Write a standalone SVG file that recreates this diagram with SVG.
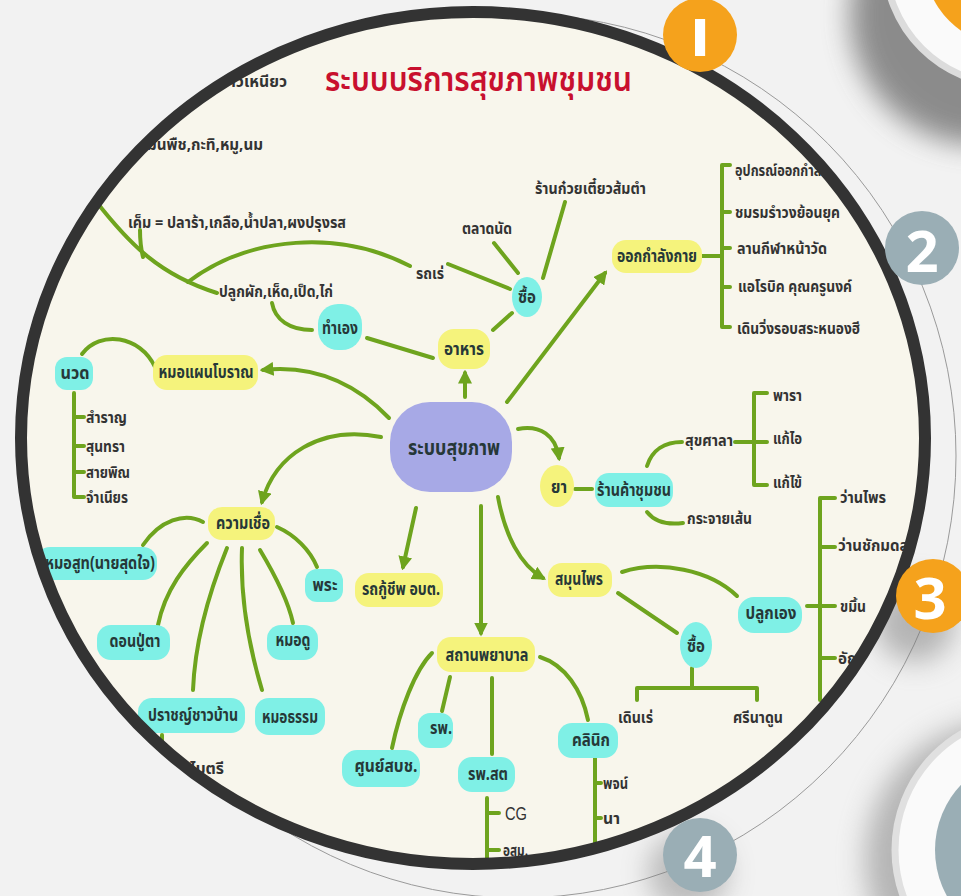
<svg xmlns="http://www.w3.org/2000/svg" width="961" height="896" viewBox="0 0 961 896">
<defs>
<style>
.ln{fill:none;stroke:#6ea41e;stroke-width:4;stroke-linecap:round;stroke-linejoin:round}
.ar{marker-end:url(#ah)}
.y{fill:#f5f37c}
.c{fill:#7ff0e6}
.nt{font-family:'Noto Sans Thai','Noto Sans','DejaVu Sans',sans-serif;font-size:17px;font-stretch:condensed;font-weight:bold;fill:#263838;text-anchor:middle}
.lt{font-family:'Noto Sans Thai','Noto Sans','DejaVu Sans',sans-serif;font-size:15.5px;font-stretch:condensed;font-weight:bold;fill:#333}
.num{font-family:'Open Sans','Liberation Sans',sans-serif;font-weight:bold;font-size:58px;fill:#fff;text-anchor:middle}
</style>
<marker id="ah" markerUnits="userSpaceOnUse" markerWidth="14" markerHeight="14" viewBox="0 0 12 12" refX="9" refY="6" orient="auto">
<path d="M0,0 L12,6 L0,12 z" fill="#6ea41e"/>
</marker>
<clipPath id="inner"><ellipse cx="473" cy="438" rx="452" ry="426"/></clipPath>
<filter id="sh" x="-50%" y="-50%" width="200%" height="200%"><feGaussianBlur stdDeviation="14"/></filter>
</defs>
<rect width="961" height="896" fill="#f2f2f2"/>
<g id="decor">
<ellipse cx="518" cy="456" rx="438" ry="442" fill="none" stroke="#9a9a9a" stroke-width="1"/>
<circle cx="980" cy="15" r="130" fill="#555" opacity="0.65" filter="url(#sh)"/>
<circle cx="1010" cy="-40" r="125" fill="#fafafa" stroke="#dcdcdc" stroke-width="7"/>
<circle cx="1010" cy="-40" r="86" fill="#f5a21c"/>
<circle cx="1005" cy="860" r="140" fill="#777" opacity="0.5" filter="url(#sh)"/>
<circle cx="1030" cy="850" r="135" fill="#fafafa" stroke="#e0e0e0" stroke-width="7"/>
<circle cx="1030" cy="850" r="95" fill="#9aaeb5"/>
<circle cx="915" cy="622" r="40" fill="#777" opacity="0.5" filter="url(#sh)"/>
<circle cx="688" cy="872" r="40" fill="#777" opacity="0.45" filter="url(#sh)"/>
</g>
<ellipse cx="473" cy="438" rx="452" ry="426" fill="#f8f6ec"/>
<g clip-path="url(#inner)">
<g id="title"><text x="325" y="91" textLength="307" lengthAdjust="spacingAndGlyphs" style="font-family:'Noto Sans Thai','Noto Sans','DejaVu Sans',sans-serif;font-size:33px;font-stretch:condensed;font-weight:600;fill:#c8102e">ระบบบริการสุขภาพชุมชน</text></g>
<g id="connectors">
<path class="ln ar" d="M465,397 L465,373"/>
<path class="ln ar" d="M507,402 L605,273"/>
<path class="ln ar" d="M389,418 C360,388 320,364 263,370"/>
<path class="ln ar" d="M381,437 C320,425 275,455 262,502"/>
<path class="ln ar" d="M416,508 L403,567"/>
<path class="ln ar" d="M481,506 L481,633"/>
<path class="ln ar" d="M518,429 C540,425 556,435 559,458"/>
<path class="ln ar" d="M498,497 C505,535 520,565 543,578"/>
<path class="ln" d="M433,358 L367,338"/>
<path class="ln" d="M493,330 L512,313"/>
<path class="ln" d="M510,289 L448,264"/>
<path class="ln" d="M518,273 L494,243"/>
<path class="ln" d="M543,278 L565,202"/>
<path class="ln" d="M312,330 C290,330 275,320 272,303"/>
<path class="ln" d="M410,266 C340,230 250,235 188,282"/>
<path class="ln" d="M95,200 C130,245 160,275 217,293"/>
<path class="ln" d="M143,257 C140,245 140,238 140,230"/>
<path class="ln" d="M155,367 C140,335 100,330 82,354"/>
<path class="ln" d="M74,393 L74,497 L84,497 M74,417 L84,417 M74,446 L84,446 M74,472 L84,472"/>
<path class="ln" d="M203,522 C185,512 160,520 143,545"/>
<path class="ln" d="M207,543 C185,565 165,590 158,625"/>
<path class="ln" d="M227,548 C210,590 195,640 193,690"/>
<path class="ln" d="M242,548 C240,600 250,650 262,690"/>
<path class="ln" d="M260,550 C275,575 288,600 293,623"/>
<path class="ln" d="M277,527 C295,535 310,550 317,567"/>
<path class="ln" d="M162,735 L162,765"/>
<path class="ln" d="M432,653 C415,670 400,710 392,748"/>
<path class="ln" d="M450,677 L442,711"/>
<path class="ln" d="M492,678 L492,754"/>
<path class="ln" d="M540,657 C565,665 582,690 588,720"/>
<path class="ln" d="M487,798 L487,870 M487,813 L499,813 M487,850 L499,850"/>
<path class="ln" d="M595,758 L595,880 M595,783 L601,783 M595,818 L601,818"/>
<path class="ln" d="M575,489 L592,489"/>
<path class="ln" d="M647,466 C652,450 665,442 682,442"/>
<path class="ln" d="M735,442 L767,442 M767,393 L754,393 L754,485 L767,485"/>
<path class="ln" d="M647,512 C655,522 668,525 683,523"/>
<path class="ln" d="M622,572 C660,560 710,570 737,596"/>
<path class="ln" d="M618,593 L677,633"/>
<path class="ln" d="M807,606 L835,606 M835,498 L820,498 L820,700 M820,547 L835,547 M820,658 L835,658"/>
<path class="ln" d="M692,668 L692,688 M637,700 L637,688 L757,688 L757,700"/>
<path class="ln" d="M702,256 L722,256 M730,165 L722,165 L722,327 L730,327 M722,212 L730,212 M722,248 L730,248 M722,287 L730,287"/>
</g>
<g id="n-center"><rect x="390" y="402" width="122" height="90" rx="40" fill="#a7a9e6"/><text class="nt" x="454" y="455" textLength="92" lengthAdjust="spacingAndGlyphs" style="font-size:21px">ระบบสุขภาพ</text></g>
<g id="n-food"><rect class="y" x="438" y="329" width="52" height="40" rx="16"/><text class="nt" x="464" y="355" textLength="40" lengthAdjust="spacingAndGlyphs">อาหาร</text></g>
<g id="n-buy1"><ellipse class="c" cx="527" cy="297" rx="15" ry="20"/><text class="nt" x="527" y="303" textLength="18" lengthAdjust="spacingAndGlyphs">ซื้อ</text></g>
<g id="n-self"><rect class="c" x="318" y="304" width="44" height="46" rx="20"/><text class="nt" x="340" y="334" textLength="36" lengthAdjust="spacingAndGlyphs">ทำเอง</text></g>
<g id="n-exercise"><rect class="y" x="612" y="240" width="90" height="33" rx="14"/><text class="nt" x="657" y="262" textLength="80" lengthAdjust="spacingAndGlyphs">ออกกำลังกาย</text></g>
<g id="n-trad"><rect class="y" x="153" y="355" width="105" height="35" rx="14"/><text class="nt" x="206" y="378" textLength="95" lengthAdjust="spacingAndGlyphs">หมอแผนโบราณ</text></g>
<g id="n-massage"><rect class="c" x="55" y="357" width="38" height="33" rx="12"/><text class="nt" x="75" y="379" textLength="29" lengthAdjust="spacingAndGlyphs">นวด</text></g>
<g id="n-belief"><rect class="y" x="208" y="507" width="67" height="33" rx="14"/><text class="nt" x="243" y="529" textLength="54" lengthAdjust="spacingAndGlyphs">ความเชื่อ</text></g>
<g id="n-suit"><rect class="c" x="36" y="547" width="121" height="33" rx="14"/><text class="nt" x="100" y="569" textLength="110" lengthAdjust="spacingAndGlyphs">หมอสูท(นายสุดใจ)</text></g>
<g id="n-don"><rect class="c" x="97" y="625" width="73" height="35" rx="14"/><text class="nt" x="135" y="647" textLength="51" lengthAdjust="spacingAndGlyphs">ดอนปู่ตา</text></g>
<g id="n-sage"><rect class="c" x="138" y="698" width="107" height="35" rx="14"/><text class="nt" x="193" y="721" textLength="90" lengthAdjust="spacingAndGlyphs">ปราชญ์ชาวบ้าน</text></g>
<g id="n-dhamma"><rect class="c" x="255" y="698" width="70" height="37" rx="14"/><text class="nt" x="290" y="723" textLength="56" lengthAdjust="spacingAndGlyphs">หมอธรรม</text></g>
<g id="n-seer"><rect class="c" x="267" y="625" width="51" height="35" rx="14"/><text class="nt" x="293" y="646" textLength="35" lengthAdjust="spacingAndGlyphs">หมอดู</text></g>
<g id="n-monk"><rect class="c" x="305" y="569" width="38" height="33" rx="12"/><text class="nt" x="325" y="591" textLength="25" lengthAdjust="spacingAndGlyphs">พระ</text></g>
<g id="n-ambulance"><rect class="y" x="355" y="573" width="88" height="34" rx="14"/><text class="nt" x="401" y="595" textLength="78" lengthAdjust="spacingAndGlyphs">รถกู้ชีพ อบต.</text></g>
<g id="n-facility"><rect class="y" x="437" y="637" width="98" height="35" rx="14"/><text class="nt" x="487" y="661" textLength="83" lengthAdjust="spacingAndGlyphs">สถานพยาบาล</text></g>
<g id="n-center2"><rect class="c" x="342" y="750" width="78" height="37" rx="15"/><text class="nt" x="386" y="772" textLength="63" lengthAdjust="spacingAndGlyphs">ศูนย์สบช.</text></g>
<g id="n-hosp"><rect class="c" x="418" y="713" width="35" height="35" rx="12"/><text class="nt" x="441" y="734" textLength="22" lengthAdjust="spacingAndGlyphs">รพ.</text></g>
<g id="n-hosp2"><rect class="c" x="458" y="757" width="57" height="35" rx="14"/><text class="nt" x="488" y="780" textLength="40" lengthAdjust="spacingAndGlyphs">รพ.สต</text></g>
<g id="n-clinic"><rect class="c" x="558" y="723" width="60" height="35" rx="14"/><text class="nt" x="591" y="746" textLength="38" lengthAdjust="spacingAndGlyphs">คลินิก</text></g>
<g id="n-med"><ellipse class="y" cx="557" cy="486" rx="17" ry="21"/><text class="nt" x="559" y="493" textLength="16" lengthAdjust="spacingAndGlyphs">ยา</text></g>
<g id="n-shop"><rect class="c" x="595" y="473" width="78" height="34" rx="14"/><text class="nt" x="634" y="496" textLength="74" lengthAdjust="spacingAndGlyphs">ร้านค้าชุมชน</text></g>
<g id="n-herb"><rect class="y" x="548" y="563" width="64" height="34" rx="14"/><text class="nt" x="579" y="585" textLength="48" lengthAdjust="spacingAndGlyphs">สมุนไพร</text></g>
<g id="n-grow"><rect class="c" x="738" y="597" width="64" height="36" rx="16"/><text class="nt" x="771" y="619" textLength="51" lengthAdjust="spacingAndGlyphs">ปลูกเอง</text></g>
<g id="n-buy2"><ellipse class="c" cx="696" cy="645" rx="16" ry="23"/><text class="nt" x="696" y="652" textLength="18" lengthAdjust="spacingAndGlyphs">ซื้อ</text></g>
<g id="leaves">
<text class="lt" x="229" y="87" textLength="58" lengthAdjust="spacingAndGlyphs">าวเหนียว</text>
<text class="lt" x="147" y="150" textLength="116" lengthAdjust="spacingAndGlyphs">มันพืช,กะทิ,หมู,นม</text>
<text class="lt" x="128" y="228" textLength="218" lengthAdjust="spacingAndGlyphs">เค็ม = ปลาร้า,เกลือ,น้ำปลา,ผงปรุงรส</text>
<text class="lt" x="219" y="297" textLength="114" lengthAdjust="spacingAndGlyphs">ปลูกผัก,เห็ด,เป็ด,ไก่</text>
<text class="lt" x="416" y="279" textLength="28" lengthAdjust="spacingAndGlyphs">รถเร่</text>
<text class="lt" x="462" y="234" textLength="50" lengthAdjust="spacingAndGlyphs">ตลาดนัด</text>
<text class="lt" x="535" y="194" textLength="111" lengthAdjust="spacingAndGlyphs">ร้านก๋วยเตี๋ยวส้มตำ</text>
<text class="lt" x="735" y="176" textLength="115" lengthAdjust="spacingAndGlyphs">อุปกรณ์ออกกำลังกาย</text>
<text class="lt" x="735" y="218" textLength="105" lengthAdjust="spacingAndGlyphs">ชมรมรำวงย้อนยุค</text>
<text class="lt" x="737" y="254" textLength="90" lengthAdjust="spacingAndGlyphs">ลานกีฬาหน้าวัด</text>
<text class="lt" x="738" y="292" textLength="114" lengthAdjust="spacingAndGlyphs">แอโรบิค คุณครูนงค์</text>
<text class="lt" x="737" y="334" textLength="123" lengthAdjust="spacingAndGlyphs">เดินวิ่งรอบสระหนองฮี</text>
<text class="lt" x="86" y="423" textLength="41" lengthAdjust="spacingAndGlyphs">สำราญ</text>
<text class="lt" x="86" y="452" textLength="39" lengthAdjust="spacingAndGlyphs">สุนทรา</text>
<text class="lt" x="86" y="478" textLength="44" lengthAdjust="spacingAndGlyphs">สายพิณ</text>
<text class="lt" x="86" y="503" textLength="42" lengthAdjust="spacingAndGlyphs">จำเนียร</text>
<text class="lt" x="190" y="774" textLength="34" lengthAdjust="spacingAndGlyphs">ไมตรี</text>
<text x="505" y="820" textLength="22" lengthAdjust="spacingAndGlyphs" style="font-family:'Liberation Sans',sans-serif;font-size:18px;fill:#333">CG</text>
<text class="lt" x="503" y="856" textLength="25" lengthAdjust="spacingAndGlyphs">อสม.</text>
<text class="lt" x="603" y="789" textLength="25" lengthAdjust="spacingAndGlyphs">พจน์</text>
<text class="lt" x="603" y="824" textLength="17" lengthAdjust="spacingAndGlyphs">นา</text>
<text class="lt" x="685" y="446" textLength="48" lengthAdjust="spacingAndGlyphs">สุขศาลา</text>
<text class="lt" x="773" y="401" textLength="29" lengthAdjust="spacingAndGlyphs">พารา</text>
<text class="lt" x="773" y="444" textLength="29" lengthAdjust="spacingAndGlyphs">แก้ไอ</text>
<text class="lt" x="773" y="488" textLength="29" lengthAdjust="spacingAndGlyphs">แก้ไข้</text>
<text class="lt" x="687" y="524" textLength="65" lengthAdjust="spacingAndGlyphs">กระจายเส้น</text>
<text class="lt" x="840" y="503" textLength="46" lengthAdjust="spacingAndGlyphs">ว่านไพร</text>
<text class="lt" x="838" y="551" textLength="80" lengthAdjust="spacingAndGlyphs">ว่านชักมดลูก</text>
<text class="lt" x="840" y="612" textLength="26" lengthAdjust="spacingAndGlyphs">ขมิ้น</text>
<text class="lt" x="838" y="664" textLength="42" lengthAdjust="spacingAndGlyphs">อัญชัน</text>
<text class="lt" x="618" y="723" textLength="35" lengthAdjust="spacingAndGlyphs">เดินเร่</text>
<text class="lt" x="733" y="723" textLength="50" lengthAdjust="spacingAndGlyphs">ศรีนาดูน</text>
</g>
</g>
<ellipse id="ring" cx="473" cy="438" rx="452" ry="426" fill="none" stroke="#333" stroke-width="12"/>
<g id="badges">
<circle cx="700" cy="35" r="37" fill="#f5a21c"/><text class="num" x="700" y="56" style="font-size:52px;font-weight:800">I</text>
<circle cx="922" cy="248" r="37" fill="#9aaeb5"/><text class="num" x="922" y="272">2</text>
<circle cx="933" cy="596" r="37" fill="#f5a21c"/><text class="num" x="930" y="619">3</text>
<circle cx="700" cy="855" r="37" fill="#9aaeb5"/><text class="num" x="700" y="877">4</text>
</g>
</svg>
